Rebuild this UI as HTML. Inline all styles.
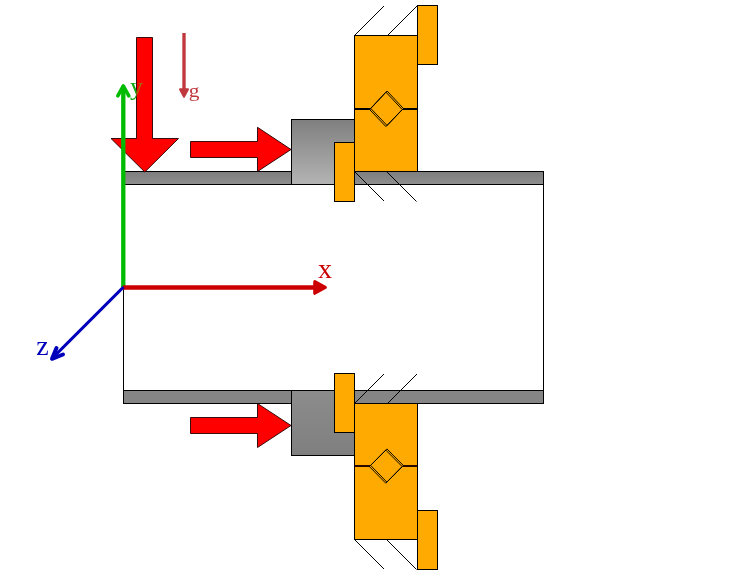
<!DOCTYPE html>
<html>
<head>
<meta charset="utf-8">
<title>Pipe with bearings</title>
<style>
html,body{margin:0;padding:0;background:#fff;}
body{width:744px;height:575px;overflow:hidden;}
svg{display:block;}
text{font-family:"Liberation Serif","DejaVu Serif",serif;}
</style>
</head>
<body>
<svg width="744" height="575" viewBox="0 0 744 575">
<defs>
<linearGradient id="gTop" x1="0" y1="0" x2="0" y2="1">
<stop offset="0" stop-color="#7f7f7f"/><stop offset="1" stop-color="#b4b4b4"/>
</linearGradient>
<linearGradient id="gBarT" x1="0" y1="0" x2="0" y2="1">
<stop offset="0" stop-color="#7e7e7e"/><stop offset="1" stop-color="#8e8e8e"/>
</linearGradient>
<linearGradient id="gBot" x1="0" y1="0" x2="0" y2="1">
<stop offset="0" stop-color="#8c8c8c"/><stop offset="1" stop-color="#7f7f7f"/>
</linearGradient>
<clipPath id="clipRed"><rect x="136.5" y="37" width="16" height="110"/></clipPath>
<clipPath id="clipWhite"><rect x="100" y="37" width="36.500" height="110"/></clipPath>
</defs>
<rect width="744" height="575" fill="#ffffff"/>

<!-- pipe -->
<rect x="123.5" y="171.5" width="420" height="232" fill="#ffffff" stroke="#000" stroke-width="1"/>
<rect x="123.5" y="171.5" width="420" height="13" fill="url(#gBarT)" stroke="#000" stroke-width="1"/>
<rect x="123.5" y="390.5" width="420" height="13" fill="#858585" stroke="#000" stroke-width="1"/>

<!-- grey sleeves -->
<rect x="291.5" y="119.5" width="63" height="65" fill="url(#gTop)" stroke="#000" stroke-width="1"/>
<rect x="291.5" y="390.5" width="63" height="65" fill="url(#gBot)" stroke="#000" stroke-width="1"/>

<!-- hatch lines -->
<g stroke="#000" stroke-width="1" fill="none">
<path d="M354.5 35.500L384 6M387.500 35.500L417.500 5.500"/>
<path d="M354.500 171.500L384 201M386.500 171.500L416.500 201.500"/>
<path d="M354.500 403.500L384 374M387.500 403.500L417 374"/>
<path d="M354.500 539.500L384 569M386.500 539.500L416.500 569.500"/>
</g>

<!-- bearings -->
<g fill="#ffaa00" stroke="#000" stroke-width="1">
<rect x="354.5" y="35.5" width="63" height="136"/>
<rect x="417.500" y="5.500" width="20" height="59"/>
<rect x="334.500" y="142.500" width="20" height="59"/>
<rect x="354.5" y="403.500" width="63" height="136"/>
<rect x="334.500" y="373.500" width="20" height="59"/>
<rect x="417.500" y="510.500" width="20" height="59"/>
</g>
<g stroke="#000" fill="none">
<path d="M354.500 109H370.500M403 109H417" stroke-width="2.100"/>
<path d="M387.1 91.0L403.4 108.5L387.1 125.5L370.8 108.5Z" stroke-width="0.950"/>
<path d="M385.9 92.1L402.2 109.5L385.9 126.6L369.6 109.5Z" stroke-width="0.950"/>
<path d="M354.500 466H370M403 466H417" stroke-width="1.800" stroke="#2a0a00"/>
<path d="M386.9 448.9L403.3 465.4L386.9 482.1L370.6 465.4Z" stroke-width="0.950"/>
<path d="M385.8 450.1L402.2 466.6L385.8 483.2L369.4 466.6Z" stroke-width="0.950"/>
</g>

<!-- red load arrows -->
<g fill="#ff0000" stroke="#200000" stroke-width="0.900" stroke-linejoin="miter">
<path d="M136.500 37.500H152.500V138.500H178.500L144.800 172L111 138.500H136.500Z"/>
<path d="M190.500 141.500H257.500V127.300L291 149.500L257.500 171.500V157.500H190.500Z"/>
<path d="M190.500 417.500H257.500V403.500L291 425.500L257.500 447.500V433.500H190.500Z"/>
</g>

<!-- gravity arrow -->
<g stroke="#c0393f" fill="#c0393f">
<path d="M184 33V90" stroke-width="3.400" fill="none"/>
<path d="M180 89.300H188L184 96.800Z" stroke-width="2" stroke-linejoin="round"/>
</g>

<!-- axes -->
<g fill="none" stroke-linecap="butt" stroke-linejoin="round">
<path d="M123.300 287V87" stroke="#00bb00" stroke-width="4.300"/>
<path d="M117.800 95.800L123.300 86L128.800 95.800" stroke="#00bb00" stroke-width="3.600" stroke-linecap="round"/>
<path d="M123 287.500H320" stroke="#cc0000" stroke-width="4.400"/>
<path d="M314.800 281.700L325.300 287.400L314.800 293.200Z" fill="#cc0000" stroke="#cc0000" stroke-width="3.200"/>
<path d="M123.500 287L53 357.500" stroke="#0000bb" stroke-width="3.100"/>
<path d="M56.500 348L52 358.800L63 354.500" stroke="#0000bb" stroke-width="4" stroke-linecap="round"/>
</g>
<g opacity="0.999">
<text x="130" y="95" font-size="26" fill="#12a812" clip-path="url(#clipWhite)">y</text>
<text x="130" y="95" font-size="26" fill="#9a7a10" clip-path="url(#clipRed)">y</text>
<text x="318" y="278" font-size="28" fill="#cc0000">x</text>
<text x="36.300" y="355" font-size="28" fill="#0000bb">z</text>
<text transform="translate(188.800 96.700) scale(1.1 1)" font-size="19.500" fill="#c0393f">g</text>
</g>
</svg>
</body>
</html>
